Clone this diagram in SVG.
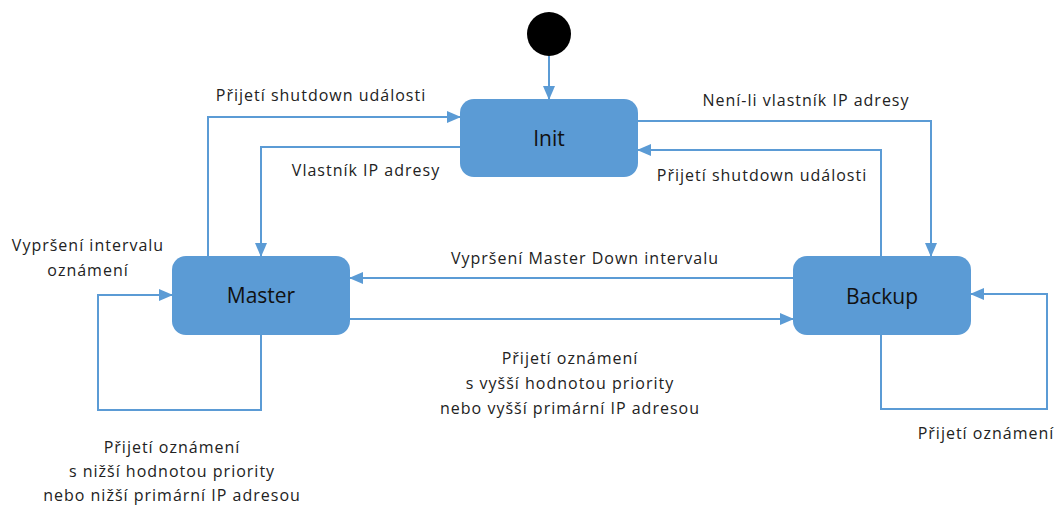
<svg xmlns="http://www.w3.org/2000/svg" width="1061" height="507" viewBox="0 0 1061 507">
<style>
.node{fill:#5B9BD5;}
.nl{font-family:"Open Sans","Liberation Sans",Arial,sans-serif;font-size:21px;fill:#111;text-anchor:middle;}
.lbl{font-family:"Open Sans","Liberation Sans",Arial,sans-serif;font-size:16px;letter-spacing:1px;fill:#222;text-anchor:middle;}
.c{fill:none;stroke:#5B9BD5;stroke-width:2;marker-end:url(#ah);}
</style>
<defs>
<marker id="ah" markerWidth="14" markerHeight="12" refX="13" refY="6" orient="auto" markerUnits="userSpaceOnUse">
<path d="M0,0 L14,6 L0,12 Z" fill="#5B9BD5"/>
</marker>
</defs>
<rect width="1061" height="507" fill="#fff"/>
<g id="start"><circle cx="549" cy="34" r="22" fill="#000"/></g>
<g id="init"><rect class="node" x="460" y="99" width="178" height="78" rx="14"/><text class="nl" x="549" y="146" font-size="23">Init</text></g>
<g id="master"><rect class="node" x="172" y="256" width="178" height="79" rx="14"/><text class="nl" x="261" y="303">Master</text></g>
<g id="backup"><rect class="node" x="793" y="256" width="178" height="79" rx="14"/><text class="nl" x="882" y="304">Backup</text></g>
<g id="connectors">
<path class="c" d="M549,56 V99"/>
<path class="c" d="M208,256 V117 H460"/>
<path class="c" d="M460,147 H261 V256"/>
<path class="c" d="M638,121 H931 V256"/>
<path class="c" d="M881,256 V150 H638"/>
<path class="c" d="M793,278 H350"/>
<path class="c" d="M350,319 H793"/>
<path class="c" d="M261,335 V410 H98 V295 H172"/>
<path class="c" d="M881,335 V409 H1047 V294 H971"/>
</g>
<g id="labels">
<text class="lbl" x="321" y="101">Přijetí shutdown události</text>
<text class="lbl" x="366" y="176">Vlastník IP adresy</text>
<text class="lbl" x="806" y="106">Není-li vlastník IP adresy</text>
<text class="lbl" x="762" y="181">Přijetí shutdown události</text>
<text class="lbl" x="585" y="264">Vypršení Master Down intervalu</text>
<text class="lbl" x="570" y="364">Přijetí oznámení</text>
<text class="lbl" x="570" y="389">s vyšší hodnotou priority</text>
<text class="lbl" x="570" y="414">nebo vyšší primární IP adresou</text>
<text class="lbl" x="88" y="251">Vypršení intervalu</text>
<text class="lbl" x="88" y="276">oznámení</text>
<text class="lbl" x="172" y="453">Přijetí oznámení</text>
<text class="lbl" x="172" y="477">s nižší hodnotou priority</text>
<text class="lbl" x="172" y="501">nebo nižší primární IP adresou</text>
<text class="lbl" x="986" y="439">Přijetí oznámení</text>
</g>
</svg>
